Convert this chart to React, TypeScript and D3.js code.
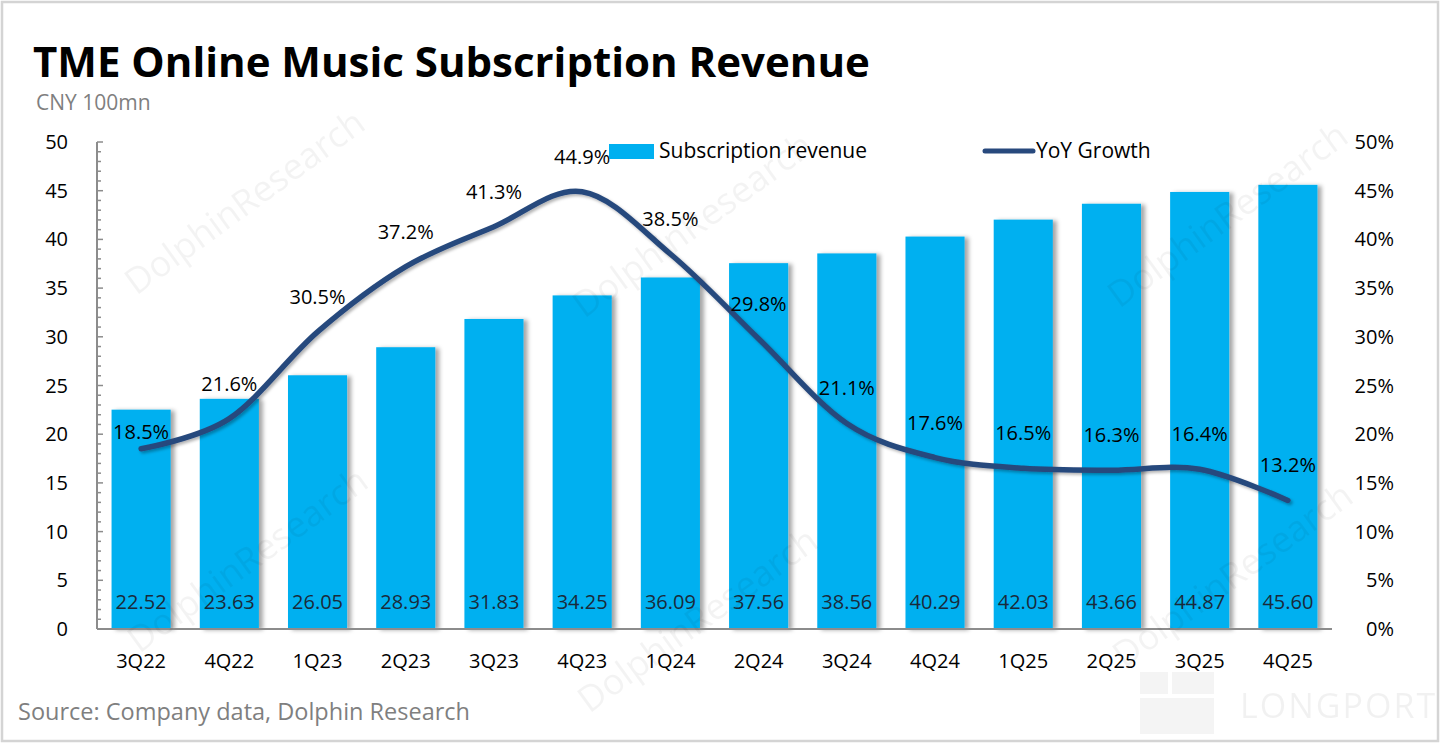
import React from "react";
import * as d3 from "d3";

const quarters = ["3Q22", "4Q22", "1Q23", "2Q23", "3Q23", "4Q23", "1Q24", "2Q24", "3Q24", "4Q24", "1Q25", "2Q25", "3Q25", "4Q25"];
const revenue = [22.52, 23.63, 26.05, 28.93, 31.83, 34.25, 36.09, 37.56, 38.56, 40.29, 42.03, 43.66, 44.87, 45.6];
const yoyGrowth = [18.5, 21.6, 30.5, 37.2, 41.3, 44.9, 38.5, 29.8, 21.1, 17.6, 16.5, 16.3, 16.4, 13.2];
const leftTicks = [0, 5, 10, 15, 20, 25, 30, 35, 40, 45, 50];
const rightTicks = [0, 5, 10, 15, 20, 25, 30, 35, 40, 45, 50];

const W = 1440;
const H = 743;
const FONT = "'Open Sans', 'Noto Sans', sans-serif";
const BAR = "#00b0f0";
const LINE = "#28497d";

export default function App() {
    const x = d3.scaleBand<string>().domain(quarters).range([97, 1332]).paddingInner(0.33).paddingOuter(0.165);
    const y = d3.scaleLinear().domain([0, 50]).range([629, 142]);
    const y2 = d3.scaleLinear().domain([0, 0.5]).range([629, 142]);
    const cx = (q: string) => (x(q) ?? 0) + x.bandwidth() / 2;

    const line = d3.line<number>()
        .x((_, i) => cx(quarters[i]))
        .y(d => y2(d / 100))
        .curve(d3.curveCardinal.tension(0));

    const minor = d3.range(0, 51, 1);

    // faint watermark spots
    const marks = [
        [252, 212], [700, 235], [1235, 225], [255, 570], [705, 630], [1240, 585],
    ];

    return (
        <div style={{ position: "absolute", left: 0, top: 0 }}>
            <svg width={W} height={H} style={{ display: "block", fontFamily: FONT }}>
                <defs>
                    <filter id="barShadow" x="-20%" y="-5%" width="150%" height="110%">
                        <feDropShadow dx="4" dy="1" stdDeviation="2" floodColor="#000" floodOpacity="0.35" />
                    </filter>
                    <filter id="lineShadow" x="-5%" y="-5%" width="110%" height="120%">
                        <feDropShadow dx="2" dy="2" stdDeviation="1.5" floodColor="#000" floodOpacity="0.3" />
                    </filter>
                </defs>
                <rect x={0} y={0} width={W} height={H} fill="#fff" />
                <rect x={2} y={2} width={W - 4} height={H - 4} fill="none" stroke="#d4d4d4" strokeWidth={2.5} />

                {/* title */}
                <text x={33} y={77} fontSize={42} fontWeight={700} fill="#000">TME Online Music Subscription Revenue</text>
                <text x={36} y={110} fontSize={21} fill="#7f7f7f">CNY 100mn</text>

                {/* bars */}
                {revenue.map((v, i) => (
                    <rect key={quarters[i]} x={x(quarters[i])} y={y(v)} width={x.bandwidth()} height={y(0) - y(v)}
                        fill={BAR} filter="url(#barShadow)" />
                ))}
                {revenue.map((v, i) => (
                    <text key={"v" + i} x={cx(quarters[i])} y={609} fontSize={20} textAnchor="middle" fill="#1a2a3a">{v.toFixed(2)}</text>
                ))}

                {/* left axis */}
                <line x1={97} x2={97} y1={y(50)} y2={y(0)} stroke="#8c8c8c" strokeWidth={2} />
                {minor.map(t => (
                    <line key={"m" + t} x1={97} x2={t % 5 === 0 ? 103 : 101} y1={y(t)} y2={y(t)} stroke="#8c8c8c" strokeWidth={1.5} />
                ))}
                {leftTicks.map(t => (
                    <text key={"l" + t} x={68} y={y(t)} dy="0.35em" fontSize={20} textAnchor="end" fill="#000">{t}</text>
                ))}
                {rightTicks.map(t => (
                    <text key={"r" + t} x={1394} y={y2(t / 100)} dy="0.35em" fontSize={20} textAnchor="end" fill="#000">{t}%</text>
                ))}

                {/* bottom axis */}
                <line x1={97} x2={1332} y1={y(0)} y2={y(0)} stroke="#8c8c8c" strokeWidth={2} />
                {quarters.map(q => (
                    <text key={"q" + q} x={cx(q)} y={668} fontSize={20} textAnchor="middle" fill="#000">{q}</text>
                ))}

                {/* growth line */}
                <path d={line(yoyGrowth) ?? ""} fill="none" stroke={LINE} strokeWidth={5.5} strokeLinecap="round" filter="url(#lineShadow)" />
                {yoyGrowth.map((g, i) => (
                    <text key={"g" + i} x={cx(quarters[i])} y={y2(g / 100) - (i === 0 ? 17 : 35)} dy="0.35em"
                        fontSize={20} textAnchor="middle" fill="#000">{g.toFixed(1)}%</text>
                ))}

                {/* legend */}
                <rect x={609} y={144} width={45} height={15} fill={BAR} />
                <text x={659} y={151} dy="0.35em" fontSize={21} fill="#000">Subscription revenue</text>
                <line x1={985} x2={1033} y1={151} y2={151} stroke={LINE} strokeWidth={5} strokeLinecap="round" />
                <text x={1036} y={151} dy="0.35em" fontSize={21} fill="#000">YoY Growth</text>

                {/* watermarks */}
                {marks.map(([mx, my], i) => (
                    <text key={"w" + i} x={mx} y={my} fontSize={36} textAnchor="middle" fill="#000" opacity={0.045}
                        transform={`rotate(-36 ${mx} ${my})`}>DolphinResearch</text>
                ))}
                <rect x={1140} y={672} width={28} height={22} fill="#000" opacity={0.045} />
                <rect x={1172} y={672} width={42} height={22} fill="#000" opacity={0.045} />
                <rect x={1140} y={698} width={74} height={36} fill="#000" opacity={0.045} />
                <text x={1240} y={718} fontSize={34} fill="#000" opacity={0.05} letterSpacing={2}>LONGPORT</text>

                {/* source */}
                <text x={18} y={720} fontSize={23.5} fill="#7f7f7f">Source: Company data, Dolphin Research</text>
            </svg>
        </div>
    );
}
